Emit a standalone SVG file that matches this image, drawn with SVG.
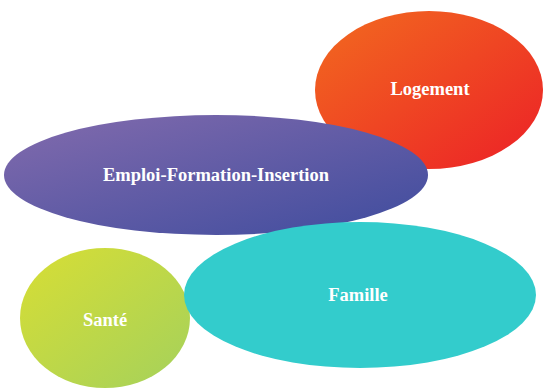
<svg xmlns="http://www.w3.org/2000/svg" width="543" height="388" viewBox="0 0 543 388">
<defs>
<linearGradient id="gOrange" x1="0" y1="0" x2="1" y2="1"><stop offset="0" stop-color="#F26B1F"/><stop offset="1" stop-color="#EC2027"/></linearGradient>
<linearGradient id="gPurple" x1="0" y1="0" x2="1" y2="1"><stop offset="0" stop-color="#836BAD"/><stop offset="1" stop-color="#3E4C9E"/></linearGradient>
<linearGradient id="gGreen" x1="0" y1="0" x2="1" y2="1"><stop offset="0" stop-color="#D8DE34"/><stop offset="1" stop-color="#A4D15C"/></linearGradient>
<style>
.lbl{font-family:"Liberation Serif","Times New Roman",serif;font-weight:bold;font-size:18.5px;fill:#FFFFFF;text-anchor:middle}
</style>
</defs>
<g id="logement">
<ellipse cx="429" cy="90" rx="114" ry="79" fill="url(#gOrange)"/>
<text class="lbl" x="430" y="95">Logement</text>
</g>
<g id="emploi">
<ellipse cx="216" cy="175" rx="212" ry="60" fill="url(#gPurple)"/>
<text class="lbl" x="216" y="181">Emploi-Formation-Insertion</text>
</g>
<g id="sante">
<ellipse cx="105" cy="318" rx="85" ry="70" fill="url(#gGreen)"/>
<text class="lbl" x="105" y="326">Santé</text>
</g>
<g id="famille">
<ellipse cx="360" cy="295" rx="176" ry="73" fill="#33CCCC"/>
<text class="lbl" x="358" y="301">Famille</text>
</g>
<g id="connectors"/>
</svg>
